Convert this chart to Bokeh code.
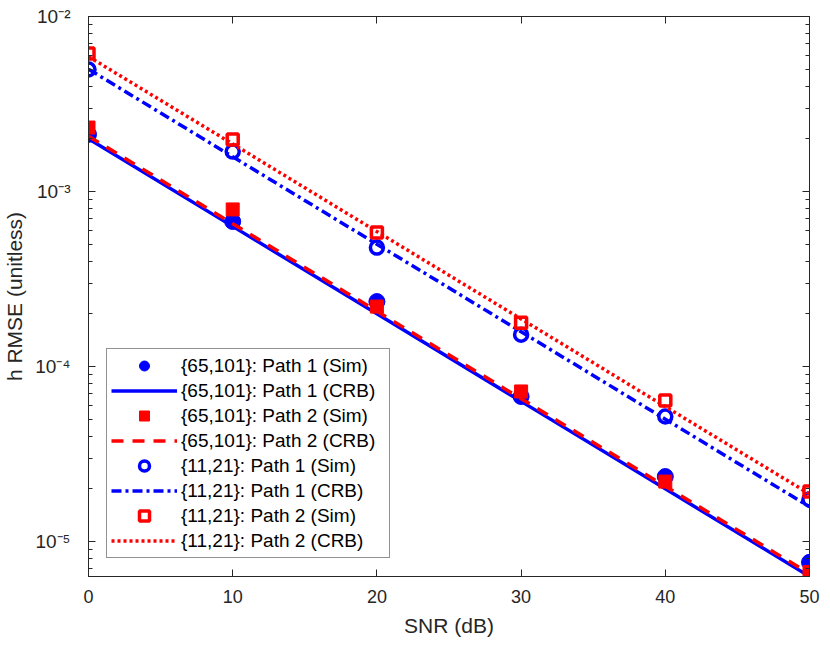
from bokeh.plotting import figure
from bokeh.models import (FixedTicker, CustomJSTickFormatter, LinearAxis, LogAxis,
                          Legend, LegendItem, Range1d)
from bokeh.embed import file_html
from bokeh.resources import INLINE

# ---------------- data ----------------
snr = [0, 10, 20, 30, 40, 50]
p1_sim_65 = [2.12e-3, 6.74e-4, 2.35e-4, 6.74e-5, 2.35e-5, 7.6e-6]
p1_crb_65 = [2.0e-3, 6.32e-4, 2.0e-4, 6.32e-5, 2.0e-5, 6.32e-6]
p2_sim_65 = [2.32e-3, 7.9e-4, 2.2e-4, 7.2e-5, 2.2e-5, 6.7e-6]
p2_crb_65 = [2.07e-3, 6.55e-4, 2.07e-4, 6.55e-5, 2.07e-5, 6.55e-6]
p1_sim_11 = [4.98e-3, 1.69e-3, 4.78e-4, 1.52e-4, 5.18e-5, 1.74e-5]
p1_crb_11 = [5.0e-3, 1.58e-3, 5.0e-4, 1.58e-4, 5.0e-5, 1.58e-5]
p2_sim_11 = [6.14e-3, 1.98e-3, 5.83e-4, 1.78e-4, 6.4e-5, 1.93e-5]
p2_crb_11 = [5.9e-3, 1.87e-3, 5.9e-4, 1.87e-4, 5.9e-5, 1.87e-5]

x_ticks = [0, 10, 20, 30, 40, 50]
y_ticks = [1e-5, 1e-4, 1e-3, 1e-2]
labels = ["{65,101}: Path 1 (Sim)", "{65,101}: Path 1 (CRB)",
          "{65,101}: Path 2 (Sim)", "{65,101}: Path 2 (CRB)",
          "{11,21}: Path 1 (Sim)", "{11,21}: Path 1 (CRB)",
          "{11,21}: Path 2 (Sim)", "{11,21}: Path 2 (CRB)"]

BLUE = "#0000FF"
RED = "#FF0000"
AX = "#262626"
FONT = "Liberation Sans"

y_minor = []
for e in range(-6, -1):
    for k in range(2, 10):
        y_minor.append(k * 10.0 ** e)

p = figure(width=820, height=640, y_axis_type="log",
           x_range=Range1d(0, 50), y_range=Range1d(10 ** -5.2, 1e-2),
           output_backend="svg", toolbar_location=None,
           min_border_left=87, min_border_right=11, min_border_top=16,
           min_border_bottom=64)
p.xgrid.visible = False
p.ygrid.visible = False
p.outline_line_color = AX
p.outline_line_width = 1
p.background_fill_color = "white"

xt = FixedTicker(ticks=x_ticks, minor_ticks=[])
yt = FixedTicker(ticks=y_ticks, minor_ticks=y_minor)
sup_code = """
const sup = {"-":"\u207b","0":"\u2070","1":"\u00b9","2":"\u00b2","3":"\u00b3","4":"\u2074","5":"\u2075","6":"\u2076","7":"\u2077","8":"\u2078","9":"\u2079"};
const e = Math.round(Math.log10(tick));
return "10" + String(e).split("").map(c => sup[c]).join("");
"""

xa = p.xaxis[0]
xa.ticker = xt
xa.axis_label = "SNR (dB)"
ya = p.yaxis[0]
ya.ticker = yt
ya.formatter = CustomJSTickFormatter(code=sup_code)
ya.axis_label = "h RMSE (unitless)"

for ax in (xa, ya):
    ax.major_tick_in = 7
    ax.major_tick_out = 0
    ax.minor_tick_in = 4
    ax.minor_tick_out = 0
    ax.axis_line_color = AX
    ax.major_tick_line_color = AX
    ax.minor_tick_line_color = AX
    ax.major_label_text_color = AX
    ax.major_label_text_font = FONT
    ax.major_label_text_font_size = "18px"
    ax.axis_label_text_font = FONT
    ax.axis_label_text_font_size = "21px"
    ax.axis_label_text_font_style = "normal"
    ax.axis_label_text_color = AX
xa.major_label_standoff = 13
xa.axis_label_standoff = 8
ya.major_label_standoff = 18
ya.axis_label_standoff = 6
ya.major_label_text_font_size = "19px"

blank = CustomJSTickFormatter(code="return ''")
top = LinearAxis(ticker=xt, formatter=blank)
right = LogAxis(ticker=yt, formatter=blank)
for ax in (top, right):
    ax.major_tick_in = 7
    ax.major_tick_out = 0
    ax.minor_tick_in = 4
    ax.minor_tick_out = 0
    ax.axis_line_color = AX
    ax.major_tick_line_color = AX
    ax.minor_tick_line_color = AX
    ax.major_label_text_font_size = "0px"
    ax.major_label_standoff = 0
p.add_layout(top, "above")
p.add_layout(right, "right")

LW = 3.5
r1 = p.scatter(snr, p1_sim_65, marker="circle", size=16, color=BLUE)
r2 = p.line(snr, p1_crb_65, line_width=LW, color=BLUE)
r3 = p.scatter(snr, p2_sim_65, marker="square", size=13, color=RED)
r4 = p.line(snr, p2_crb_65, line_width=LW, color=RED, line_dash="12 9")
r5 = p.scatter(snr, p1_sim_11, marker="circle", size=13, line_color=BLUE,
               fill_alpha=0, line_width=3.5)
r6 = p.line(snr, p1_crb_11, line_width=LW, color=BLUE, line_dash="10 4 3 4")
r7 = p.scatter(snr, p2_sim_11, marker="square", size=11, line_color=RED,
               fill_alpha=0, line_width=3.5)
r8 = p.line(snr, p2_crb_11, line_width=LW, color=RED, line_dash="3 3")

rs = [r1, r2, r3, r4, r5, r6, r7, r8]
legend = Legend(items=[LegendItem(label=l, renderers=[r]) for l, r in zip(labels, rs)],
                location=(18, 18), orientation="vertical",
                glyph_width=66, glyph_height=25, spacing=0, padding=4, margin=0,
                label_standoff=4, label_text_font=FONT, label_text_font_size="19px",
                label_text_color="black", label_height=25, label_width=204,
                border_line_color=AX, border_line_width=1,
                background_fill_color="white", background_fill_alpha=1)
p.add_layout(legend)

open("out.html", "w").write(file_html(p, INLINE))
